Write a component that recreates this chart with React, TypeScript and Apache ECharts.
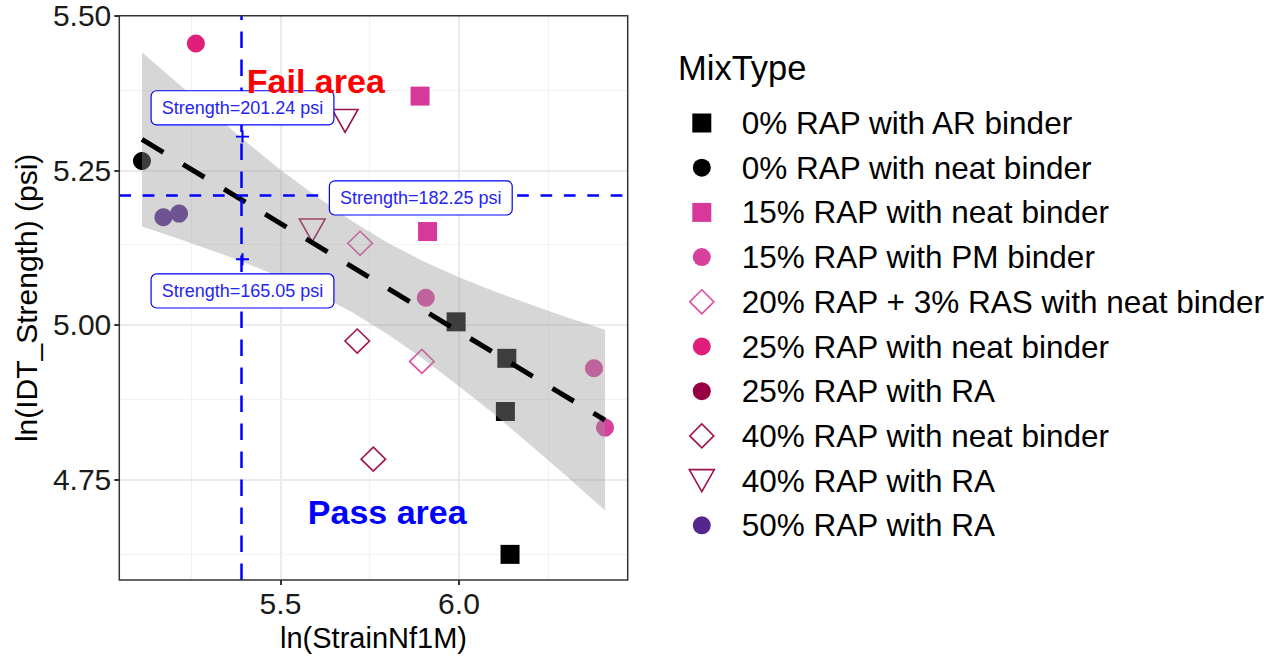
import React, { useEffect, useRef } from "react";
import * as echarts from "echarts";

// ---------- data ----------
const mixTypes = [
  "0% RAP with AR binder",
  "0% RAP with neat binder",
  "15% RAP with neat binder",
  "15% RAP with PM binder",
  "20% RAP + 3% RAS with neat binder",
  "25% RAP with neat binder",
  "25% RAP with RA",
  "40% RAP with neat binder",
  "40% RAP with RA",
  "50% RAP with RA",
];

// [ln(StrainNf1M), ln(IDT_Strength)]
const pts0AR = [[5.992, 5.005], [6.134, 4.946], [6.130, 4.860], [6.143, 4.629]];
const pts0Neat = [[5.112, 5.265]];
const pts15Neat = [[5.891, 5.370], [5.912, 5.151]];
const pts15PM = [[5.907, 5.044], [6.378, 4.930], [6.409, 4.834]];
const pts20RAS = [[5.723, 5.132], [5.896, 4.941]];
const pts25Neat = [[5.263, 5.455]];
const pts25RA: number[][] = [];
const pts40Neat = [[5.715, 4.974], [5.760, 4.783]];
const pts40RA = [[5.681, 5.336], [5.589, 5.159]];
const pts50RA = [[5.172, 5.174], [5.216, 5.180]];

// linear fit and its confidence band
const fitX = [5.112, 6.409];
const fitY = [5.300, 4.846];
const bandX = [5.112, 5.2, 5.3, 5.4, 5.5, 5.6, 5.7, 5.8, 5.9, 6.0, 6.1, 6.2, 6.3, 6.409];
const bandUpper = [5.441, 5.397, 5.347, 5.298, 5.251, 5.208, 5.168, 5.133, 5.103, 5.077, 5.054, 5.033, 5.013, 4.992];
const bandLower = [5.159, 5.142, 5.122, 5.101, 5.077, 5.051, 5.021, 4.985, 4.945, 4.901, 4.855, 4.806, 4.756, 4.700];

// critical strain / strength cross-hair
const critX = 5.3936;
const critY = 5.2054;
const ciY = [5.3045, 5.1063];
const strengthLabels = ["Strength=201.24 psi", "Strength=182.25 psi", "Strength=165.05 psi"];
const strengthLabelPos = [[5.3936, 5.351], [5.893, 5.2054], [5.3936, 5.055]];
const areaTexts = ["Fail area", "Pass area"];
const areaTextPos = [[5.599, 5.395], [5.799, 4.698]];

// axes
const xRange = [5.0485, 6.4726];
const yRange = [4.5874, 5.5];
const xTicks = [5.5, 6.0];
const xMinor = [5.25, 5.75, 6.25];
const yTicks = [4.75, 5.0, 5.25, 5.5];
const yMinor = [4.625, 4.875, 5.125, 5.375];

// ---------- styles ----------
const mixColors = ["#000000", "#000000", "#D7399A", "#D8409F", "#DD4AA0", "#E01F7B", "#980043", "#A3124F", "#9C1050", "#54278F"];
const mixShapes = ["rect", "circle", "rect", "circle", "diamond", "circle", "circle", "diamond", "tri", "circle"];
const TRI_PATH = "path://M0,0L26,0L13,23Z";
const legendIcons: Record<string, string> = {
  rect: "path://M0,0M26,26M3.5,3.5h19v19h-19Z",
  circle: "path://M0,0M26,26M4,13a9,9 0 1,0 18,0a9,9 0 1,0 -18,0Z",
  diamond: "path://M0,0M26,26M13,1L25,13L13,25L1,13Z",
  tri: "path://M0,0M26,26M0.5,2L25.5,2L13,24Z",
};
const FONT = "'Liberation Sans', Arial, sans-serif";

export default function App() {
  const ref = useRef<HTMLDivElement>(null);
  useEffect(() => {
    if (!ref.current) return;
    const chart = echarts.init(ref.current, undefined, { renderer: "svg" });
    const mixPoints = [pts0AR, pts0Neat, pts15Neat, pts15PM, pts20RAS, pts25Neat, pts25RA, pts40Neat, pts40RA, pts50RA];

    const inside = (v: number, r: number[]) => v > r[0] && v < r[1];
    const gridLineData: any[] = [];
    xTicks.filter((v) => inside(v, xRange)).forEach((v) => gridLineData.push({ xAxis: v, lineStyle: { color: "#EBEBEB", width: 2.2, type: "solid" } }));
    xMinor.filter((v) => inside(v, xRange)).forEach((v) => gridLineData.push({ xAxis: v, lineStyle: { color: "#F2F2F2", width: 1.2, type: "solid" } }));
    yTicks.filter((v) => inside(v, yRange)).forEach((v) => gridLineData.push({ yAxis: v, lineStyle: { color: "#EBEBEB", width: 2.2, type: "solid" } }));
    yMinor.filter((v) => inside(v, yRange)).forEach((v) => gridLineData.push({ yAxis: v, lineStyle: { color: "#F2F2F2", width: 1.2, type: "solid" } }));

    const pointSeries = mixTypes.map((name, i) => {
      const shape = mixShapes[i];
      const hollow = shape === "diamond" || shape === "tri";
      return {
        type: "scatter",
        name,
        data: mixPoints[i],
        z: 2,
        silent: true,
        symbol: shape === "tri" ? TRI_PATH : shape,
        symbolSize: shape === "rect" ? 19 : shape === "circle" ? 18 : shape === "diamond" ? [24.5, 24] : [25.7, 22.7],
        symbolOffset: shape === "tri" ? [0, 3.8] : [0, 0],
        itemStyle: hollow
          ? { color: "rgba(0,0,0,0)", borderColor: mixColors[i], borderWidth: 1.6, opacity: 1 }
          : { color: mixColors[i], opacity: 1 },
        emphasis: { disabled: true },
      };
    });

    const option: any = {
      animation: false,
      textStyle: { fontFamily: FONT },
      title: {
        text: "MixType",
        left: 673,
        top: 45,
        textStyle: { fontSize: 34.5, fontWeight: "normal", color: "#000", fontFamily: FONT },
      },
      legend: {
        orient: "vertical",
        left: 688,
        top: 107,
        padding: 0,
        itemWidth: 26,
        itemHeight: 26,
        itemGap: 12.7,
        selectedMode: false,
        textStyle: { fontSize: 31.5, color: "#000", padding: [0, 0, 0, 22], fontFamily: FONT },
        data: mixTypes.map((name, i) => {
          const shape = mixShapes[i];
          const hollow = shape === "diamond" || shape === "tri";
          return {
            name,
            icon: legendIcons[shape],
            itemStyle: hollow
              ? { color: "rgba(0,0,0,0)", borderColor: mixColors[i], borderWidth: 1.6, opacity: 1 }
              : { color: mixColors[i], borderWidth: 0, opacity: 1 },
          };
        }),
      },
      grid: {
        left: 119.3,
        right: 648.3,
        top: 15.7,
        bottom: 76.3,
        show: true,
        z: 10,
        borderColor: "#333",
        borderWidth: 1.5,
        backgroundColor: "rgba(0,0,0,0)",
      },
      xAxis: {
        type: "value",
        min: xRange[0],
        max: xRange[1],
        axisLine: { show: false },
        splitLine: { show: false },
        axisTick: { show: true, customValues: xTicks, length: 5, lineStyle: { color: "#333", width: 2 } },
        axisLabel: {
          customValues: xTicks,
          formatter: (v: number) => v.toFixed(1),
          fontSize: 30,
          color: "#1a1a1a",
          margin: 8,
          fontFamily: FONT,
        },
        name: "ln(StrainNf1M)",
        nameLocation: "middle",
        nameGap: 42,
        nameTextStyle: { fontSize: 29, color: "#000", fontFamily: FONT },
      },
      yAxis: {
        type: "value",
        min: yRange[0],
        max: yRange[1],
        axisLine: { show: false },
        splitLine: { show: false },
        axisTick: { show: true, customValues: yTicks, length: 5, lineStyle: { color: "#333", width: 2 } },
        axisLabel: {
          customValues: yTicks,
          formatter: (v: number) => v.toFixed(2),
          fontSize: 30,
          color: "#1a1a1a",
          margin: 8,
          fontFamily: FONT,
        },
        name: "ln(IDT_Strength) (psi)",
        nameLocation: "middle",
        nameGap: 78,
        nameTextStyle: { fontSize: 30, color: "#000", fontFamily: FONT },
      },
      series: [
        {
          type: "line",
          name: "__grid",
          data: [],
          silent: true,
          markLine: {
            silent: true,
            z: 1,
            symbol: ["none", "none"],
            label: { show: false },
            emphasis: { disabled: true },
            data: gridLineData,
          },
        },
        ...pointSeries,
        {
          type: "custom",
          name: "__band",
          silent: true,
          z: 3,
          data: [[bandX[0], bandUpper[0]]],
          renderItem: (_params: any, api: any) => {
            const pts: number[][] = [];
            for (let i = 0; i < bandX.length; i++) pts.push(api.coord([bandX[i], bandUpper[i]]));
            for (let i = bandX.length - 1; i >= 0; i--) pts.push(api.coord([bandX[i], bandLower[i]]));
            return { type: "polygon", shape: { points: pts }, style: { fill: "rgba(153,153,153,0.4)" } };
          },
        },
        {
          type: "line",
          name: "__fit",
          silent: true,
          z: 4,
          symbol: "none",
          data: fitX.map((x, i) => [x, fitY[i]]),
          lineStyle: { color: "#000", width: 5, type: [25, 23], cap: "butt" },
        },
        {
          type: "line",
          name: "__cross",
          data: [],
          silent: true,
          markLine: {
            silent: true,
            z: 5,
            symbol: ["none", "none"],
            label: { show: false },
            emphasis: { disabled: true },
            data: [
              { xAxis: critX, lineStyle: { color: "#0000FF", width: 2.5, type: [16.5, 11.5], opacity: 1 } },
              { yAxis: critY, lineStyle: { color: "#0000FF", width: 2.5, type: [11.7, 11.7], opacity: 1 } },
            ],
          },
        },
        {
          type: "scatter",
          name: "__plus",
          silent: true,
          z: 6,
          symbol: "path://M0,6L13,6M6.5,0L6.5,12",
          symbolSize: [13, 12],
          itemStyle: { color: "rgba(0,0,0,0)", borderColor: "#0000FF", borderWidth: 2, opacity: 1 },
          data: ciY.map((y) => [critX, y]),
        },
        {
          type: "scatter",
          name: "__labels",
          silent: true,
          z: 7,
          symbol: "circle",
          symbolSize: 1,
          itemStyle: { color: "rgba(0,0,0,0)", opacity: 1 },
          data: strengthLabelPos.map((p) => p),
          label: {
            show: true,
            position: "inside",
            formatter: (p: any) => strengthLabels[p.dataIndex],
            color: "#2525F2",
            fontSize: 18,
            lineHeight: 19,
            fontFamily: FONT,
            backgroundColor: "#ffffff",
            borderColor: "#0000FF",
            borderWidth: 1.2,
            borderRadius: 5,
            padding: [7, 10, 7, 10],
          },
        },
        {
          type: "scatter",
          name: "__areas",
          silent: true,
          z: 7,
          symbol: "circle",
          symbolSize: 1,
          itemStyle: { color: "rgba(0,0,0,0)", opacity: 1 },
          data: areaTextPos.map((p, i) => ({
            value: p,
            label: { color: i === 0 ? "#FF0000" : "#0000FF" },
          })),
          label: {
            show: true,
            position: "inside",
            formatter: (p: any) => areaTexts[p.dataIndex],
            fontSize: 34,
            fontWeight: "bold",
            fontFamily: FONT,
          },
        },
      ],
    };
    chart.setOption(option);
    return () => chart.dispose();
  }, []);
  return (
    <div
      ref={ref}
      style={{ position: "fixed", left: 0, top: 0, width: 1276, height: 657, background: "#fff" }}
    />
  );
}
